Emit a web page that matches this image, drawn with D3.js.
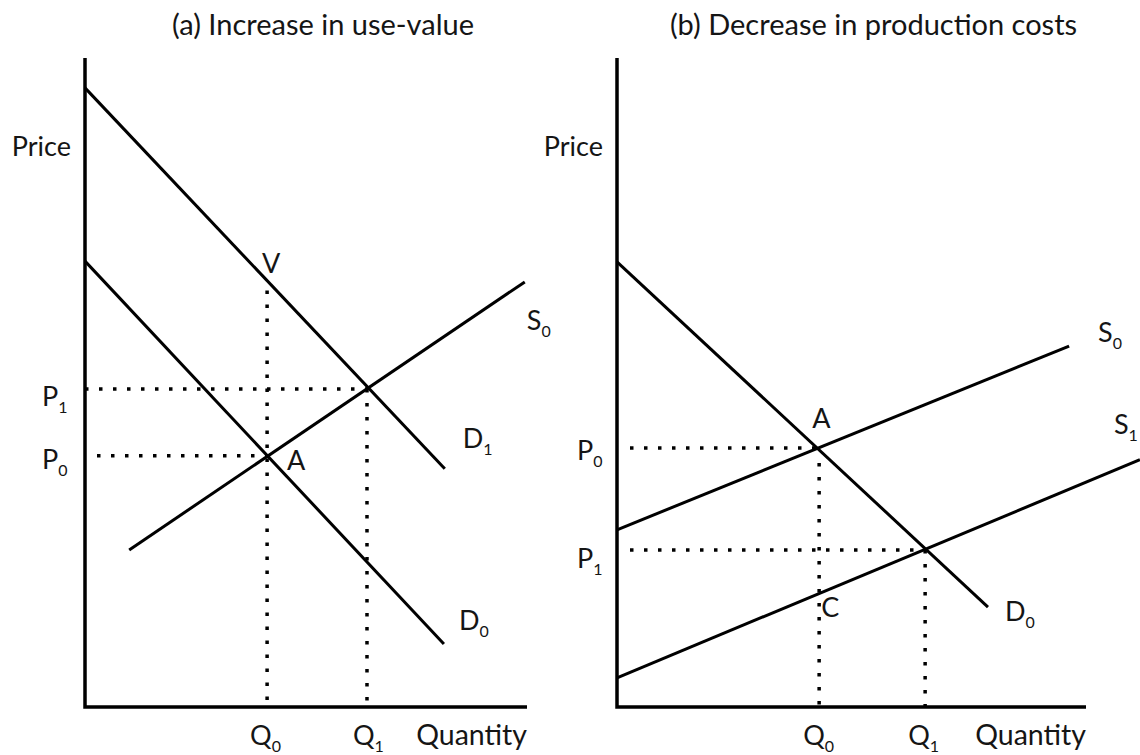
<!DOCTYPE html>
<html>
<head>
<meta charset="utf-8">
<script src="https://cdn.jsdelivr.net/npm/d3@7"></script>
<style>
  html, body { margin: 0; padding: 0; background: #fff; }
  svg { display: block; }
  text { font-family: Lato, "Noto Sans", sans-serif; fill: #151515; }
</style>
</head>
<body>
<svg id="chart" width="1140" height="755"></svg>
<script>
// ---------- data (abstract units, 0..10 on each axis) ----------
const titles = ["(a) Increase in use-value", "(b) Decrease in production costs"];
const axisNames = ["Price", "Quantity"];

// Panel (a): increase in use-value
const aD1 = [[0, 9.54], [8.14, 3.67]];
const aD0 = [[0, 6.87], [8.12, 0.97]];
const aS0 = [[1.0, 2.42], [9.95, 6.55]];
const aQ = [4.12, 6.38];     // Q0, Q1
const aP = [3.87, 4.90];     // P0, P1
const aV = 6.57;             // price at V (D1 at Q0)

// Panel (b): decrease in production costs
const bD0 = [[0, 6.86], [7.91, 1.54]];
const bS0 = [[0, 2.73], [9.64, 5.56]];
const bS1 = [[0, 0.45], [11.15, 3.81]];
const bQ = [4.31, 6.57];     // Q0, Q1
const bP = [3.99, 2.42];     // P0, P1
const bC = 1.75;             // price at C (S1 at Q0)

// ---------- drawing ----------
const svg = d3.select("#chart");
const yA = d3.scaleLinear().domain([0, 10]).range([707, 58]);
const xA = d3.scaleLinear().domain([0, 10]).range([85, 527]);
const xB = d3.scaleLinear().domain([0, 10]).range([617, 1086]);
const yB = yA;

const FS = 27, SUB = 16, TFS = 29;

function lineGen(x, y) { return d3.line().x(d => x(d[0])).y(d => y(d[1])); }

function solid(g, pts, x, y, w) {
  g.append("path").attr("d", lineGen(x, y)(pts))
    .attr("fill", "none").attr("stroke", "#000").attr("stroke-width", w || 3);
}
function dotted(g, x1, y1, x2, y2) {
  g.append("line").attr("x1", x1).attr("y1", y1).attr("x2", x2).attr("y2", y2)
    .attr("stroke", "#000").attr("stroke-width", 3.5)
    .attr("stroke-dasharray", "3.5 10.5");
}
function label(g, px, py, main, sub, anchor) {
  const t = g.append("text").attr("x", px).attr("y", py)
    .attr("font-size", FS).attr("text-anchor", anchor || "start");
  t.append("tspan").text(main);
  if (sub !== undefined) {
    t.append("tspan").attr("font-size", SUB).attr("dy", 7).text(sub);
  }
  return t;
}

function axes(g, x, y) {
  solid(g, [[0, 10], [0, 0], [10, 0]], x, y, 3.5);
  g.append("text").attr("x", x(0) - 14).attr("y", 156).attr("font-size", FS)
    .attr("text-anchor", "end").text(axisNames[0]);
  g.append("text").attr("x", x(10)).attr("y", 745).attr("font-size", 28.5)
    .attr("text-anchor", "end").text(axisNames[1]);
}

// ----- Panel (a) -----
const ga = svg.append("g");
ga.append("text").attr("x", (xA(0) + xA(10)) / 2 + 17).attr("y", 35)
  .attr("font-size", TFS).attr("text-anchor", "middle").text(titles[0]);
axes(ga, xA, yA);
// dotted guides
dotted(ga, xA(0), yA(aP[1]), xA(aQ[1]), yA(aP[1]));
dotted(ga, xA(0) + 12, yA(aP[0]), xA(aQ[0]), yA(aP[0]));
dotted(ga, xA(aQ[0]), yA(aV) + 10, xA(aQ[0]), yA(0));
dotted(ga, xA(aQ[1]), yA(aP[1]), xA(aQ[1]), yA(0));
// curves
solid(ga, aD1, xA, yA);
solid(ga, aD0, xA, yA);
solid(ga, aS0, xA, yA);
// labels
label(ga, xA(aS0[1][0]) + 2, yA(aS0[1][1]) + 48, "S", "0");
label(ga, xA(aD1[1][0]) + 18, yA(aD1[1][1]) - 21, "D", "1");
label(ga, xA(aD0[1][0]) + 15, yA(aD0[1][1]) - 14, "D", "0");
label(ga, xA(aQ[0]) + 4, yA(aV) - 8, "V", undefined, "middle");
label(ga, xA(aQ[0]) + 20, yA(aP[0]) + 14, "A");
label(ga, xA(0) - 43, yA(aP[1]) + 17, "P", "1");
label(ga, xA(0) - 43, yA(aP[0]) + 13, "P", "0");
label(ga, xA(aQ[0]) - 17, 745, "Q", "0");
label(ga, xA(aQ[1]) - 14, 745, "Q", "1");

// ----- Panel (b) -----
const gb = svg.append("g");
gb.append("text").attr("x", (xB(0) + xB(10)) / 2 + 22).attr("y", 35)
  .attr("font-size", TFS).attr("text-anchor", "middle").text(titles[1]);
axes(gb, xB, yB);
dotted(gb, xB(0) + 13, yB(bP[0]), xB(bQ[0]), yB(bP[0]));
dotted(gb, xB(0) + 13, yB(bP[1]), xB(bQ[1]), yB(bP[1]));
dotted(gb, xB(bQ[0]), yB(bP[0]) + 15, xB(bQ[0]), yB(0));
dotted(gb, xB(bQ[1]), yB(bP[1]), xB(bQ[1]), yB(0));
solid(gb, bD0, xB, yB);
solid(gb, bS0, xB, yB);
solid(gb, bS1, xB, yB);
label(gb, xB(bS0[1][0]) + 29, yB(bS0[1][1]) - 4, "S", "0");
label(gb, xB(bS1[1][0]) - 26, yB(bS1[1][1]) - 26, "S", "1");
label(gb, xB(bD0[1][0]) + 17, yB(bD0[1][1]) + 14, "D", "0");
label(gb, xB(bQ[0]) - 7, yB(bP[0]) - 20, "A");
label(gb, xB(bQ[0]) + 2, yB(bC) + 24, "C");
label(gb, xB(0) - 40, yB(bP[0]) + 12, "P", "0");
label(gb, xB(0) - 40, yB(bP[1]) + 18, "P", "1");
label(gb, xB(bQ[0]) - 16, 745, "Q", "0");
label(gb, xB(bQ[1]) - 17, 745, "Q", "1");
</script>
</body>
</html>
